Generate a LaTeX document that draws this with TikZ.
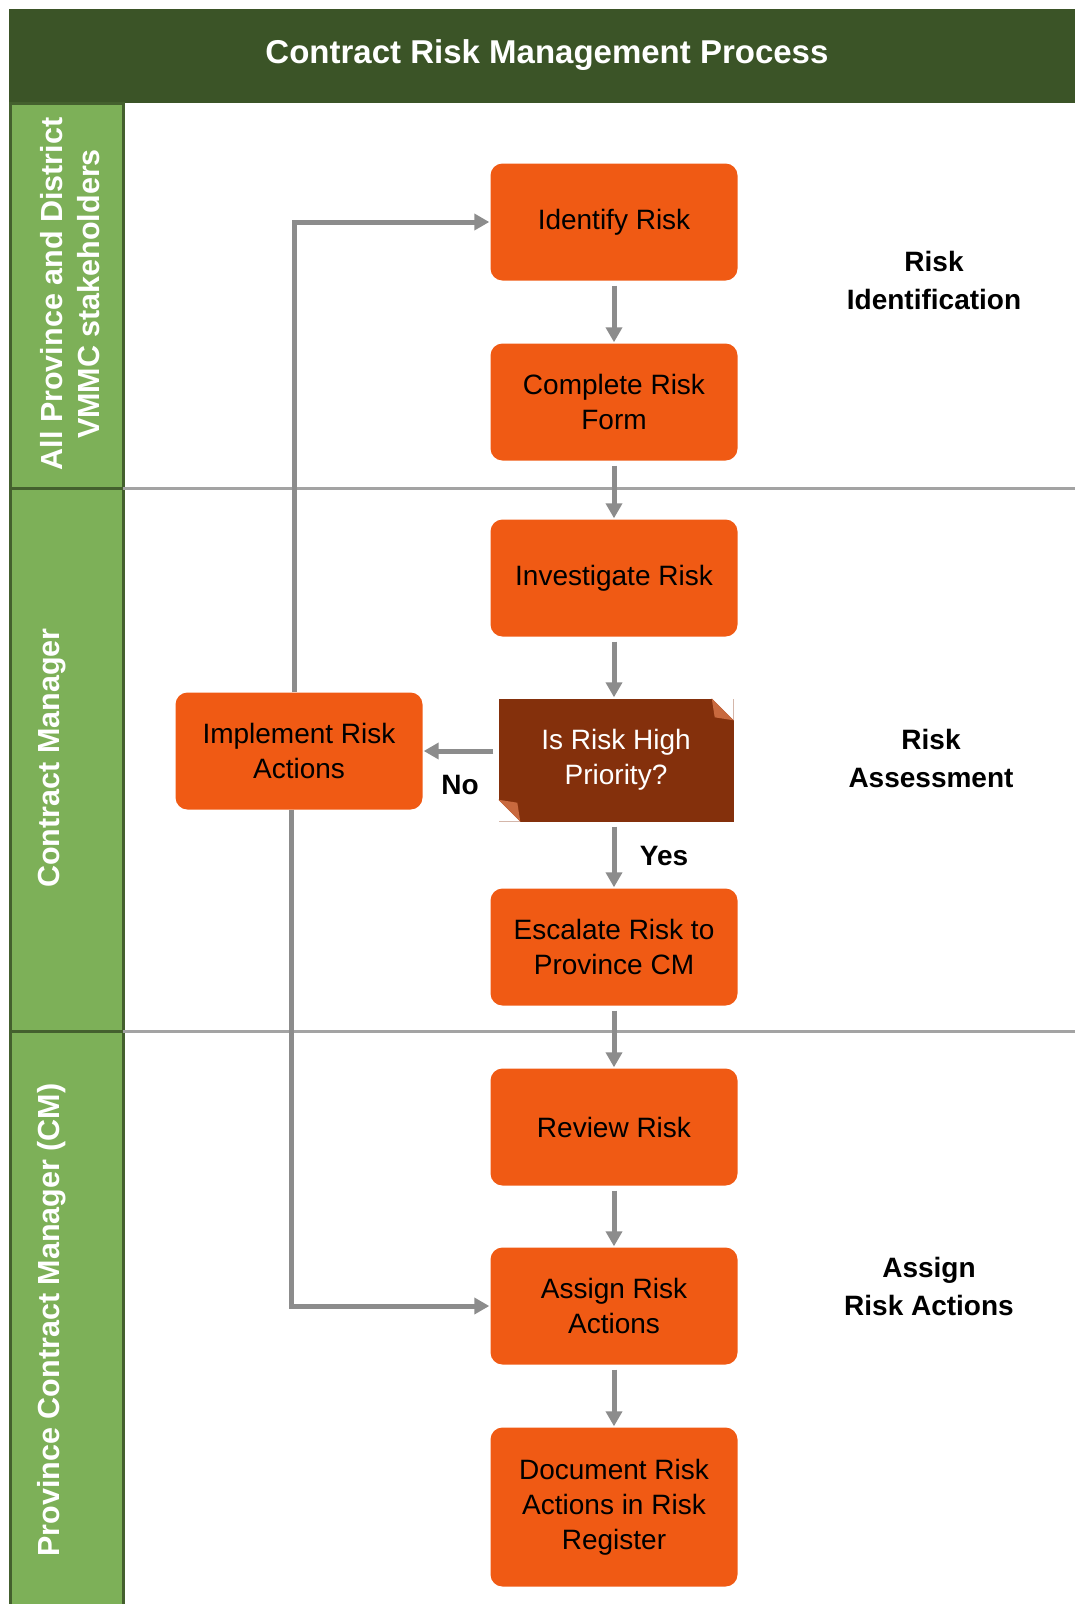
\documentclass[tikz,border=0pt]{standalone}
\usepackage{fontspec}
\setmainfont{Liberation Sans}
\usepackage{tikz}
\usetikzlibrary{positioning, arrows.meta, calc}

\definecolor{boxorange}{HTML}{F05A14}
\definecolor{decbrown}{HTML}{84300C}
\definecolor{foldbrown}{HTML}{C8693E}
\definecolor{titlegreen}{HTML}{3B5427}
\definecolor{lanegreen}{HTML}{7DB058}
\definecolor{laneborder}{HTML}{44602E}
\definecolor{linegray}{HTML}{8C8C8C}

\begin{document}
\begin{tikzpicture}[x=1pt, y=-1pt]
    \tikzset{box/.style = {fill=boxorange, rounded corners=12pt, minimum width=247pt, minimum height=117pt,
                           align=center, font=\fontsize{28}{35}\selectfont}}
    \tikzset{decbox/.style = {box, fill=decbrown, rounded corners=0pt, minimum width=235pt, minimum height=123pt, text=white}}
    \tikzset{flow/.style = {draw=linegray, line width=5pt, -{Triangle[length=15pt,width=16pt]}, shorten <=5pt, shorten >=1pt}}
    \tikzset{lanebox/.style = {fill=lanegreen, draw=laneborder, line width=3pt}}
    \tikzset{lanelbl/.style = {rotate=90, text=white, align=center, font=\fontsize{30.5}{37}\selectfont\bfseries}}
    \tikzset{stage/.style = {align=center, font=\fontsize{28}{38}\selectfont\bfseries}}

    \useasboundingbox (0,0) rectangle (1075,1604);

    % title and lanes
    \fill[titlegreen] (9,9) rectangle (1075,103);
    \node[text=white, font=\fontsize{33}{40}\selectfont\bfseries] (title) at (547,55) {Contract Risk Management Process};

    \draw[lanebox] (10,103) rectangle (123,488);
    \draw[lanebox] (10,488) rectangle (123,1031);
    \draw[lanebox] (10,1031) rectangle (123,1610);
    \draw[linegray!80, line width=3pt] (123,488) -- (1075,488);
    \draw[linegray!80, line width=3pt] (123,1031) -- (1075,1031);

    \node[lanelbl] (lanestake) at (70,294) {All Province and District\\VMMC stakeholders};
    \node[lanelbl] (lanecm) at (52,758) {Contract Manager};
    \node[lanelbl] (laneprov) at (52,1320) {Province Contract Manager (CM)};

    % steps
    \node[box] (identify) at (614,222) {Identify Risk};
    \node[box] (complete) at (614,402) {Complete Risk\\Form};
    \node[box] (investigate) at (614,578) {Investigate Risk};
    \node[decbox] (priority) at (616,760) {\raisebox{5pt}{\begin{tabular}{@{}c@{}}Is Risk High\\Priority?\end{tabular}}};
    \node[box] (escalate) at (614,947) {Escalate Risk to\\Province CM};
    \node[box] (review) at (614,1127) {Review Risk};
    \node[box] (assign) at (614,1306) {Assign Risk\\Actions};
    \node[box, minimum height=159pt] (document) at (614,1507) {Document Risk\\Actions in Risk\\Register};
    \node[box] (implement) at (299,751) {Implement Risk\\Actions};

    % folded corners
    \fill[white] (priority.north east) -- ++(-22,0) -- ++(22,22) -- cycle;
    \fill[foldbrown] ($(priority.north east)+(-22,0)$) -- ++(22,22) -- ++(-19,-3) -- cycle;
    \fill[white] (priority.south west) -- ++(22,0) -- ++(-22,-22) -- cycle;
    \fill[foldbrown] ($(priority.south west)+(22,0)$) -- ++(-22,-22) -- ++(19,3) -- cycle;

    % stages
    \node[stage] (stageid) at (934,280) {Risk\\Identification};
    \node[stage] (stageass) at (931,758) {Risk\\Assessment};
    \node[stage] (stageact) at (929,1286) {Assign\\Risk Actions};

    % arrows
    \draw[flow] (identify) -- (complete);
    \draw[flow] (complete) -- (investigate);
    \draw[flow] (investigate) -- (priority.north -| investigate.south);
    \draw[flow] (priority.south -| escalate.north) -- (escalate);
    \draw[flow] (priority.west |- implement.east) -- (implement.east);
    \draw[flow] (escalate) -- (review);
    \draw[flow] (review) -- (assign);
    \draw[flow] (assign) -- (document);
    \draw[flow, shorten <=0pt] ([xshift=-5pt]implement.north) |- (identify.west);
    \draw[flow, shorten <=0pt] ([xshift=-8pt]implement.south) |- (assign.west);

    \node[stage] (nolbl) at (460,785) {No};
    \node[stage] (yeslbl) at (664,856) {Yes};
\end{tikzpicture}
\end{document}
